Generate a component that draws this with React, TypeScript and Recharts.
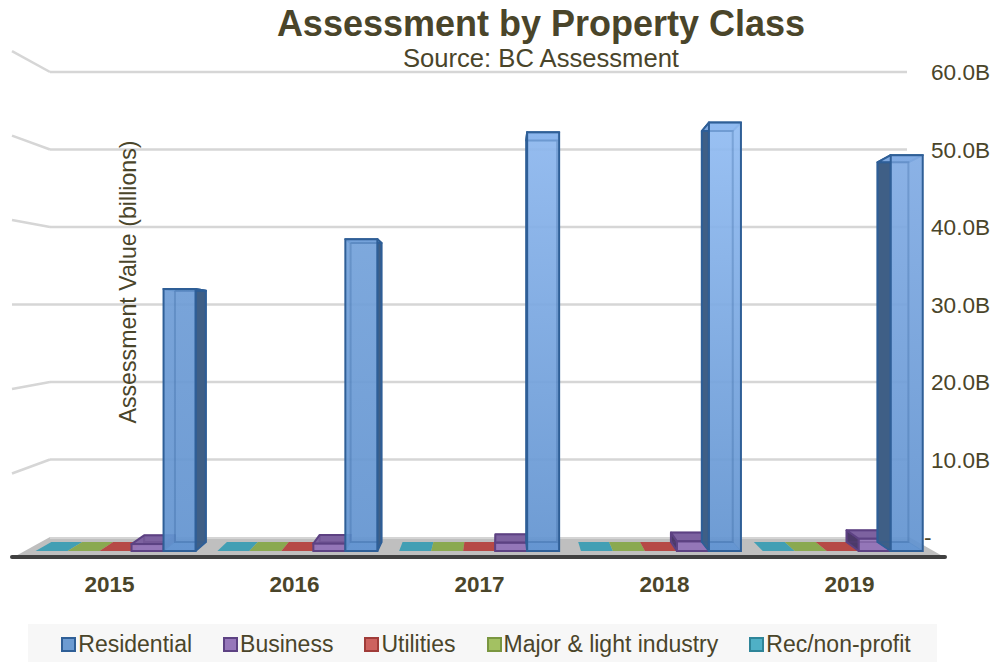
import React from "react";
import { ComposedChart, Bar, XAxis, YAxis, CartesianGrid, Legend, Customized } from "recharts";

const years = ["2015", "2016", "2017", "2018", "2019"];
const residential = [32.1, 38.2, 51.3, 52.5, 48.5];
const business = [0.85, 0.9, 1.0, 1.2, 1.5];
const utilities = [0.03, 0.03, 0.03, 0.03, 0.03];
const industry = [0.03, 0.03, 0.03, 0.03, 0.03];
const recreation = [0.03, 0.03, 0.03, 0.03, 0.03];
const yTicks = [0, 10, 20, 30, 40, 50, 60];

const rows = years.map((year, i) => ({
  year,
  residential: residential[i],
  business: business[i],
  utilities: utilities[i],
  industry: industry[i],
  recreation: recreation[i],
}));

const INK = "#4a452a";
const FONT = "'Liberation Sans', Arial, sans-serif";

const residentialTops = ["#6f9dd6", "#74a2da", "#8db7ee", "#92bcf2", "#82ace4"];

const styles: Record<string, { front: string; stroke: string; side: string; top: string }> = {
  residential: { front: "", stroke: "#2f5f97", side: "#3f5f86", top: "#7fa9e0" },
  business: { front: "#9677ba", stroke: "#5d4283", side: "#4c3a69", top: "#7d62a0" },
  utilities: { front: "#b5423f", stroke: "#b5423f", side: "#8f3532", top: "#b5423f" },
  industry: { front: "#87a84a", stroke: "#87a84a", side: "#6c873a", top: "#87a84a" },
  recreation: { front: "#3b9db3", stroke: "#3b9db3", side: "#2e7d8f", top: "#3b9db3" },
};

const legendItems = [
  { name: "Residential", fill: "#6c9bd2", stroke: "#2f5f97" },
  { name: "Business", fill: "#9677ba", stroke: "#5d4283" },
  { name: "Utilities", fill: "#cd625f", stroke: "#a03c39" },
  { name: "Major & light industry", fill: "#a3c162", stroke: "#7a9640" },
  { name: "Rec/non-profit", fill: "#4fb0c6", stroke: "#2e8599" },
];

const VANISH_X = 500;
const DEPTH = 0.034;
const PLOT_BOTTOM = 537;

function Prism(props: any) {
  const { x, width, height, seriesKey, index } = props;
  const s = styles[seriesKey];
  const h = Math.max(height, 0);
  const fl = x;
  const fr = x + width;
  const bl = fl + (VANISH_X - fl) * DEPTH;
  const br = fr + (VANISH_X - fr) * DEPTH;
  const fBase = 551;
  const bBase = 542;
  const fTop = fBase - h * 1.053;
  const bTop = bBase - h * 1.01;
  const side =
    bl < fl
      ? `${fl},${fBase} ${fl},${fTop} ${bl},${bTop} ${bl},${bBase}`
      : `${fr},${fBase} ${fr},${fTop} ${br},${bTop} ${br},${bBase}`;
  const tall = h > 1;
  const gradId = `residentialFront${index}`;
  const front = seriesKey === "residential" ? `url(#${gradId})` : s.front;
  return (
    <g>
      {seriesKey === "residential" && (
        <defs>
          <linearGradient id={gradId} gradientUnits="userSpaceOnUse" x1="0" y1={fTop} x2="0" y2="551">
            <stop offset="0" stopColor={residentialTops[index]} />
            <stop offset="1" stopColor="#6394d0" />
          </linearGradient>
        </defs>
      )}
      {tall && (
        <>
          <polygon
            points={`${bl},${bBase} ${br},${bBase} ${fr},${fBase} ${fl},${fBase}`}
            fill={s.top}
            stroke={s.stroke}
            strokeWidth={1}
          />
          <polygon points={side} fill={s.side} stroke={s.stroke} strokeWidth={2} strokeLinejoin="round" />
          <polygon
            points={`${fl},${fTop} ${fr},${fTop} ${br},${bTop} ${bl},${bTop}`}
            fill={s.top}
            stroke={s.stroke}
            strokeWidth={2}
            strokeLinejoin="round"
          />
          <rect x={fl} y={fTop} width={width} height={fBase - fTop} fill={front} stroke={s.stroke} strokeWidth={2} fillOpacity={0.93} />
          <polyline
            points={`${bl},${bTop} ${br},${bTop} ${br},${bBase} ${bl},${bBase} ${bl},${bTop}`}
            fill="none"
            stroke={s.stroke}
            strokeOpacity={0.28}
            strokeWidth={2}
          />
        </>
      )}
      {!tall && (
        <polygon points={`${bl},${bBase} ${br},${bBase} ${fr},${fBase} ${fl},${fBase}`} fill={s.top} fillOpacity={0.95} />
      )}
    </g>
  );
}

function gridRow(p: any) {
  const y = p.y1;
  const wallLeft = 50;
  const wallRight = 907;
  const outerY = 558 + (y - PLOT_BOTTOM) * 1.09;
  if (Math.abs(y - PLOT_BOTTOM) < 1) {
    return (
      <g key={p.key ?? y}>
        <polygon points={`12,558 946,558 909,${y} ${wallLeft},${y}`} fill="#bfbfbf" />
        <line x1={wallLeft} y1={y + 1} x2={909} y2={y + 1} stroke="#d4d4d4" strokeWidth={2} />
        <line x1={12} y1={557} x2={945} y2={557} stroke="#404040" strokeWidth={4} strokeLinecap="round" />
      </g>
    );
  }
  return (
    <g key={p.key ?? y}>
      <line x1={wallLeft} y1={y} x2={wallRight} y2={y} stroke="#d6d6d6" strokeWidth={2.5} />
      <line x1={12} y1={outerY} x2={wallLeft} y2={y} stroke="#d6d6d6" strokeWidth={2.5} />
    </g>
  );
}

function YearTick(props: any) {
  const { x, y, payload } = props;
  const spread = 479 + (x - 479) * 1.0176;
  return (
    <text x={spread} y={y + 47} textAnchor="middle" fontFamily={FONT} fontWeight="bold" fontSize={22.5} fill={INK}>
      {payload.value}
    </text>
  );
}

function ValueTick(props: any) {
  const { x, y, payload } = props;
  const zero = payload.value === 0;
  return (
    <text x={zero ? x - 18 : x - 11} y={y + 8} textAnchor="start" fontFamily={FONT} fontSize={22.6} fill={INK}>
      {zero ? "-" : `${payload.value.toFixed(1)}B`}
    </text>
  );
}

function LegendBox() {
  return (
    <div
      style={{
        width: 909,
        height: 38,
        boxSizing: "border-box",
        paddingTop: 2,
        paddingLeft: 7,
        background: "#f7f7f7",
        display: "flex",
        alignItems: "center",
        justifyContent: "center",
        gap: 31,
        fontFamily: FONT,
        fontSize: 23,
        color: INK,
      }}
    >
      {legendItems.map((it) => (
        <span key={it.name} style={{ display: "inline-flex", alignItems: "center", gap: 2, whiteSpace: "nowrap" }}>
          <span
            style={{
              display: "inline-block",
              width: 11,
              height: 11,
              background: it.fill,
              border: `2px solid ${it.stroke}`,
            }}
          />
          {it.name}
        </span>
      ))}
    </div>
  );
}

function Headings() {
  return (
    <g fontFamily={FONT} fill={INK}>
      <text x={541} y={36} textAnchor="middle" fontSize={36} fontWeight="bold">
        Assessment by Property Class
      </text>
      <text x={541} y={67} textAnchor="middle" fontSize={25.6}>
        Source: BC Assessment
      </text>
      <text x={136} y={282} textAnchor="middle" fontSize={23.2} transform="rotate(-90 136 282)">
        Assessment Value (billions)
      </text>
    </g>
  );
}

const seriesOrder = ["recreation", "industry", "utilities", "business", "residential"];

export default function App() {
  return (
    <div style={{ position: "absolute", left: 0, top: 0, width: 994, height: 662 }}>
      <ComposedChart
        width={994}
        height={662}
        data={rows}
        margin={{ top: 72, right: 0, bottom: 25, left: 25 }}
        barCategoryGap="5.8%"
        barGap={0}
      >
        <CartesianGrid horizontal={gridRow} vertical={false} />
        <XAxis dataKey="year" axisLine={false} tickLine={false} height={62} tick={<YearTick />} interval={0} />
        <YAxis
          orientation="right"
          width={60}
          domain={[0, 60]}
          ticks={yTicks}
          interval={0}
          axisLine={false}
          tickLine={false}
          tick={<ValueTick />}
        />
        {seriesOrder.map((key) => (
          <Bar
            key={key}
            dataKey={key}
            isAnimationActive={false}
            shape={(p: any) => <Prism {...p} seriesKey={key} />}
          />
        ))}
        <Customized component={Headings} />
        <Legend
          content={<LegendBox />}
          wrapperStyle={{ position: "absolute", left: 28, top: 624, width: 909, height: 38, bottom: "auto", right: "auto" }}
        />
      </ComposedChart>
    </div>
  );
}
